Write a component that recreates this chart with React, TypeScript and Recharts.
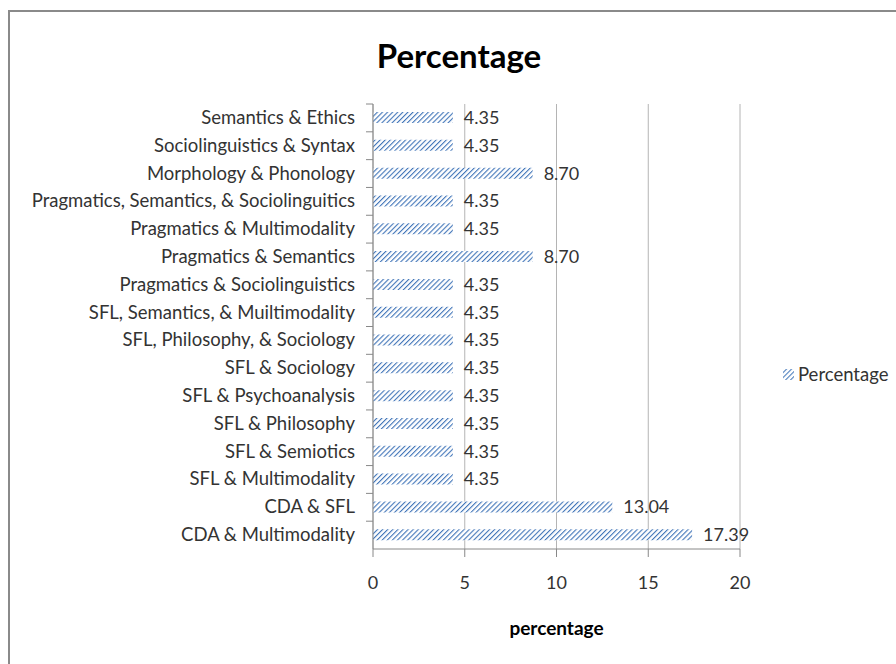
import React from 'react';
import { BarChart, Bar, XAxis, YAxis, CartesianGrid, LabelList } from 'recharts';

const categories = [
  'Semantics & Ethics',
  'Sociolinguistics & Syntax',
  'Morphology & Phonology',
  'Pragmatics, Semantics, & Sociolinguitics',
  'Pragmatics & Multimodality',
  'Pragmatics & Semantics',
  'Pragmatics & Sociolinguistics',
  'SFL, Semantics,  & Muiltimodality',
  'SFL, Philosophy, & Sociology',
  'SFL & Sociology',
  'SFL & Psychoanalysis',
  'SFL & Philosophy',
  'SFL & Semiotics',
  'SFL & Multimodality',
  'CDA & SFL',
  'CDA & Multimodality',
];
const percentages = [4.35, 4.35, 8.7, 4.35, 4.35, 8.7, 4.35, 4.35, 4.35, 4.35, 4.35, 4.35, 4.35, 4.35, 13.04, 17.39];
const xTicks = [0, 5, 10, 15, 20];

const data = categories.map((name, i) => ({ name, Percentage: percentages[i] }));

const FONT = 'Lato, "Open Sans", sans-serif';
const STEP = (549 - 104) / categories.length;

function CategoryTick(props: any) {
  const { x, y, payload } = props;
  return (
    <g>
      <text x={x - 18} y={y} dy={6} textAnchor="end" fill="#333" fontSize={18.5} fontFamily={FONT}>
        {payload.value}
      </text>
      <line x1={x - 7} x2={x} y1={y - STEP / 2} y2={y - STEP / 2} stroke="#888" />
    </g>
  );
}

function LegendBox() {
  return (
    <div
      style={{
        position: 'absolute', left: 782, top: 363, display: 'flex', alignItems: 'center',
        fontFamily: FONT, fontSize: 18.5, color: '#333',
      }}
    >
      <svg width={13} height={13} style={{ marginRight: 3 }}>
        <defs>
          <pattern id="hatchLegend" width="3.5" height="3.5" patternUnits="userSpaceOnUse" patternTransform="rotate(45)">
            <line x1="0" y1="0" x2="0" y2="3.5" stroke="#3f74b8" strokeWidth="2" />
          </pattern>
        </defs>
        <rect x={1} y={1} width={11} height={11} fill="url(#hatchLegend)" />
      </svg>
      <span>Percentage</span>
    </div>
  );
}

export default function App() {
  return (
    <div style={{ position: 'fixed', left: 0, top: 0, width: 896, height: 664, overflow: 'hidden', background: '#fff' }}>
      <div
        style={{
          position: 'absolute', left: 8, top: 10, width: 1000, height: 1000,
          borderLeft: '2px solid #8a8a8a', borderTop: '2px solid #8a8a8a',
        }}
      />
      <div
        style={{
          position: 'absolute', left: 359, top: 35, width: 200, textAlign: 'center',
          fontFamily: FONT, fontWeight: 'bold', fontSize: 33, color: '#000', lineHeight: '40px',
        }}
      >
        Percentage
      </div>
      <LegendBox />
      <div style={{ position: 'absolute', left: 0, top: 0 }}>
        <BarChart
          width={896}
          height={664}
          data={data}
          layout="vertical"
          margin={{ top: 104, right: 156, bottom: 35, left: 0 }}
          barSize={11}
        >
          <defs>
            <pattern id="hatch" width="3.6" height="3.6" patternUnits="userSpaceOnUse" patternTransform="rotate(45)">
              <rect width="3.6" height="3.6" fill="#fff" />
              <line x1="0" y1="0" x2="0" y2="3.6" stroke="#3f74b8" strokeWidth="2.2" />
            </pattern>
          </defs>
          <CartesianGrid horizontal={false} stroke="#b4b4b4" />
          <XAxis
            type="number"
            domain={[0, 20]}
            ticks={xTicks}
            height={80}
            axisLine={{ stroke: '#888' }}
            tickLine={{ stroke: '#888' }}
            tickSize={8}
            tickMargin={19}
            tick={{ fill: '#333', fontSize: 18, fontFamily: FONT }}
            label={{
              value: 'percentage', position: 'insideBottom', offset: -6,
              style: { fill: '#000', fontSize: 19, fontWeight: 'bold', fontFamily: FONT },
            }}
          />
          <YAxis
            type="category"
            dataKey="name"
            width={373}
            axisLine={{ stroke: '#888' }}
            tickLine={false}
            tickSize={0}
            tickMargin={0}
            interval={0}
            tick={<CategoryTick />}
          />
          <Bar dataKey="Percentage" fill="url(#hatch)" isAnimationActive={false}>
            <LabelList
              dataKey="Percentage"
              position="right"
              offset={11}
              formatter={(v: any) => Number(v).toFixed(2)}
              style={{ fill: '#333', fontSize: 18, fontFamily: FONT }}
            />
          </Bar>
        </BarChart>
      </div>
    </div>
  );
}
